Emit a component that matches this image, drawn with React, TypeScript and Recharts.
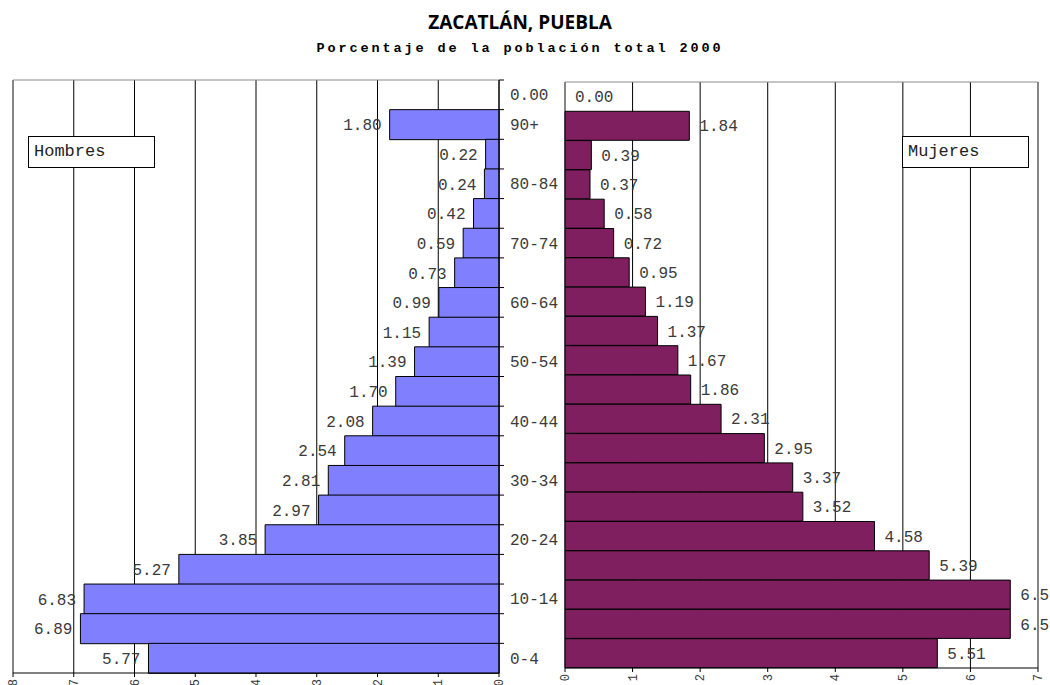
import { Bar, BarChart, CartesianGrid, LabelList, XAxis, YAxis } from 'recharts';

// top row is an empty "total" slot, then 90+ down to 0-4
const AGE_GROUPS = [
  '', '90+', '85-89', '80-84', '75-79', '70-74', '65-69', '60-64', '55-59', '50-54',
  '45-49', '40-44', '35-39', '30-34', '25-29', '20-24', '15-19', '10-14', '5-9', '0-4',
];
const HOMBRES = [
  0, 1.8, 0.22, 0.24, 0.42, 0.59, 0.73, 0.99, 1.15, 1.39,
  1.7, 2.08, 2.54, 2.81, 2.97, 3.85, 5.27, 6.83, 6.89, 5.77,
];
const MUJERES = [
  0, 1.84, 0.39, 0.37, 0.58, 0.72, 0.95, 1.19, 1.37, 1.67,
  1.86, 2.31, 2.95, 3.37, 3.52, 4.58, 5.39, 6.59, 6.59, 5.51,
];
const LEFT_TICKS = [0, 1, 2, 3, 4, 5, 6, 7, 8];
const RIGHT_TICKS = [0, 1, 2, 3, 4, 5, 6, 7];

const DATA = AGE_GROUPS.map((g, i) => ({ g, h: HOMBRES[i], m: MUJERES[i] }));

const MONO = '"Liberation Mono", "DejaVu Sans Mono", monospace';
const TXT = '#3a3a3a';
const FRAME = '#8c8c8c';
const FS = 16;

const L_TOP = 80;
const L_XH = 12;
const BAND = (685 - L_TOP - L_XH) / AGE_GROUPS.length;

function ValueTick(props: any) {
  const { x, y, payload } = props;
  return (
    <text
      x={x}
      y={y}
      dy="0.35em"
      textAnchor="end"
      transform={`rotate(-90 ${x} ${y})`}
      fontFamily={MONO}
      fontSize={12}
      fill={TXT}
    >
      {payload.value}
    </text>
  );
}

// category axis of the men's side: ticks on band edges, every other label,
// plus the outside label of a zero bar (which Recharts doesn't draw)
function AgeTick(props: any) {
  const { x, y, payload, index } = props;
  const x0 = x - 12;
  const yTop = y - BAND / 2;
  const zero = HOMBRES[index] === 0;
  return (
    <g>
      <line x1={x0} x2={x0 + 5} y1={yTop} y2={yTop} stroke="#000" />
      {(index % 2 === 1 || zero) && (
        <text x={x - 1} y={y} dy="0.35em" fontFamily={MONO} fontSize={FS} fill={TXT}>
          {zero ? HOMBRES[index].toFixed(2) : payload.value}
        </text>
      )}
    </g>
  );
}

function ZeroTick(props: any) {
  const { x, y, index } = props;
  if (MUJERES[index] !== 0) return <g />;
  return (
    <text x={x + 10} y={y} dy="0.35em" fontFamily={MONO} fontSize={FS} fill={TXT}>
      {MUJERES[index].toFixed(2)}
    </text>
  );
}

function LeftLabel(props: any) {
  const x = Number(props.x);
  const w = Number(props.width);
  const cy = Number(props.y) + Number(props.height) / 2;
  const v = Number(props.value);
  if (!v) return null;
  const left = Math.min(x, x + w);
  return (
    <text x={left - 8} y={cy} dy="0.35em" textAnchor="end" fontFamily={MONO} fontSize={FS} fill={TXT}>
      {v.toFixed(2)}
    </text>
  );
}

function RightLabel(props: any) {
  const x = Number(props.x);
  const w = Number(props.width);
  const cy = Number(props.y) + Number(props.height) / 2;
  const v = Number(props.value);
  if (!v) return null;
  return (
    <text x={x + w + 10} y={cy} dy="0.35em" fontFamily={MONO} fontSize={FS} fill={TXT}>
      {v.toFixed(2)}
    </text>
  );
}

const boxStyle: React.CSSProperties = {
  position: 'absolute',
  top: 136,
  width: 127,
  height: 32,
  border: '1px solid #000',
  background: '#fff',
  fontFamily: MONO,
  fontSize: 17,
  lineHeight: '30px',
  paddingLeft: 5,
  boxSizing: 'border-box',
  color: '#222',
};

export default function App() {
  return (
    <div style={{ position: 'absolute', left: 0, top: 0, width: 1050, height: 685, background: '#fff', overflow: 'hidden' }}>
      <div
        style={{
          position: 'absolute',
          left: 0,
          width: 1040,
          top: 9,
          textAlign: 'center',
          fontFamily: '"Open Sans", sans-serif',
          fontWeight: 700,
          fontSize: 19,
          color: '#000',
        }}
      >
        ZACATLÁN, PUEBLA
      </div>
      <div
        style={{
          position: 'absolute',
          left: 0,
          width: 1040,
          top: 41,
          textAlign: 'center',
          fontFamily: MONO,
          fontWeight: 700,
          fontSize: 13.5,
          letterSpacing: 2.9,
          color: '#000',
        }}
      >
        Porcentaje de la población total 2000
      </div>

      <div style={{ position: 'absolute', left: 0, top: 0 }}>
        <BarChart
          width={565}
          height={685}
          data={DATA}
          layout="vertical"
          barCategoryGap={0}
          margin={{ top: L_TOP, left: 13, right: 0, bottom: 0 }}
        >
          <CartesianGrid stroke="#000" horizontal={false} />
          <CartesianGrid
            stroke={FRAME}
            verticalCoordinatesGenerator={({ offset }: any) => [offset.left]}
            horizontalCoordinatesGenerator={({ offset }: any) => [offset.top]}
          />
          <XAxis
            type="number"
            domain={[0, 8]}
            ticks={LEFT_TICKS}
            reversed
            height={L_XH}
            axisLine={{ stroke: '#000' }}
            tickLine={{ stroke: '#000' }}
            tickSize={4}
            tickMargin={2}
            tick={<ValueTick />}
          />
          <YAxis
            type="category"
            dataKey="g"
            orientation="right"
            width={66}
            interval={0}
            axisLine={{ stroke: '#000' }}
            tickLine={false}
            tickSize={5}
            tickMargin={7}
            tick={<AgeTick />}
          />
          <Bar dataKey="h" fill="#8080FF" stroke="#000" strokeWidth={1} isAnimationActive={false}>
            <LabelList dataKey="h" content={<LeftLabel />} />
          </Bar>
        </BarChart>
      </div>

      <div style={{ position: 'absolute', left: 555, top: 0 }}>
        <BarChart
          width={495}
          height={685}
          data={DATA}
          layout="vertical"
          barCategoryGap={0}
          margin={{ top: 82, left: 9, right: 12, bottom: 0 }}
        >
          <CartesianGrid stroke="#000" horizontal={false} />
          <CartesianGrid
            stroke={FRAME}
            verticalCoordinatesGenerator={({ offset }: any) => [offset.left, offset.left + offset.width]}
            horizontalCoordinatesGenerator={({ offset }: any) => [offset.top]}
          />
          <XAxis
            type="number"
            domain={[0, 7]}
            ticks={RIGHT_TICKS}
            height={17}
            axisLine={{ stroke: '#000' }}
            tickLine={{ stroke: '#000' }}
            tickSize={4}
            tickMargin={2}
            tick={<ValueTick />}
          />
          <YAxis
            type="category"
            dataKey="g"
            width={1}
            interval={0}
            axisLine={false}
            tickLine={false}
            tickSize={0}
            tickMargin={0}
            tick={<ZeroTick />}
          />
          <Bar dataKey="m" fill="#7F1F5F" stroke="#000" strokeWidth={1} isAnimationActive={false}>
            <LabelList dataKey="m" content={<RightLabel />} />
          </Bar>
        </BarChart>
      </div>

      <div style={{ ...boxStyle, left: 28 }}>Hombres</div>
      <div style={{ ...boxStyle, left: 902 }}>Mujeres</div>
    </div>
  );
}
